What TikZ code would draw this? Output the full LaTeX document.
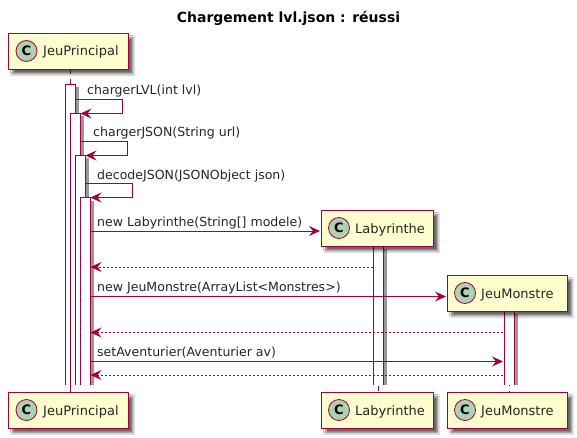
\documentclass[tikz,border=0pt]{standalone}
\usepackage{fontspec}
\setmainfont{DejaVu Sans}
\usetikzlibrary{arrows.meta,shadows.blur}
\definecolor{umlline}{HTML}{A80036}
\definecolor{umlfill}{HTML}{FEFECE}
\definecolor{umlcirc}{HTML}{ADD1B2}
\tikzset{
  x=1pt,y=-1pt,
  partbox/.style={draw=umlline,fill=umlfill,line width=1.4pt,minimum height=36pt,inner sep=0pt,anchor=north west,
    blur shadow={shadow xshift=4pt,shadow yshift=-4pt,shadow blur radius=2pt,shadow blur steps=10,shadow opacity=60}},
  classmark/.style={circle,draw=umlline,fill=umlcirc,line width=0.8pt,minimum size=21pt,inner sep=0pt,font=\fontsize{13}{13}\selectfont\bfseries},
  parttext/.style={font=\fontsize{13}{13}\selectfont,anchor=base west,inner sep=0pt,text=black!85},
  msg/.style={font=\fontsize{12.55}{13}\selectfont,anchor=base west,inner sep=0pt,text=black!85},
  call/.style={draw=umlline,line width=1pt,-{Stealth[length=11pt,width=10pt,inset=4pt]}},
  reply/.style={draw=umlline,line width=0.9pt,dash pattern=on 2pt off 2pt,-{Stealth[length=11pt,width=10pt,inset=4pt]}},
  life/.style={draw=umlline,line width=1pt,dash pattern=on 5pt off 5pt},
  actline/.style={draw=umlline,line width=1pt},
}
\newcommand{\actbar}[5]{% name, left, right, top, bottom
  \fill[black!40] (#3+1,#4+3) rectangle (#3+4,#5);
  \fill[white] (#2,#4) rectangle (#3,#5);
  \coordinate (#1tl) at (#2,#4);
  \coordinate (#1tr) at (#3,#4);
  \coordinate (#1bl) at (#2,#5);
  \coordinate (#1br) at (#3,#5);
  \draw[actline] (#1bl) -- (#1tl) -- (#1tr) -- (#1br);
}
\begin{document}
\begin{tikzpicture}
\useasboundingbox (0,0) rectangle (577,438);
\fill[white] (0,0) rectangle (577,438);
\node[font=\fontsize{14}{14}\selectfont\bfseries,inner sep=0pt] (title) at (288.5,18) {Chargement lvl.json : réussi};

% lifelines
\coordinate (lifeAtop) at (70,69);
\coordinate (lifeAbot) at (70,392);
\coordinate (lifeBtop) at (378,246);
\coordinate (lifeBbot) at (378,392);
\coordinate (lifeCtop) at (509,311);
\coordinate (lifeCbot) at (509,392);
\draw[life] (lifeAtop) -- (lifeAbot);
\draw[life] (lifeBtop) -- (lifeBbot);
\draw[life] (lifeCtop) -- (lifeCbot);

% activations
\actbar{aa}{65}{75}{84.5}{384.5}
\actbar{ab}{70}{80}{113.5}{384.5}
\actbar{ac}{75}{85}{155.5}{384.5}
\actbar{ad}{80}{90}{197.5}{384.5}
\actbar{ba}{373}{383}{246}{384.5}
\actbar{ca}{504}{514}{311}{384.5}
\coordinate (tailA) at (70,389);
\draw[actline] (abbl) -- (tailA);

% participants
\node[partbox,minimum width=120pt] (p1) at (8,33) {};
\node[classmark] (c1) at (26.5,51) {C};
\node[parttext] (t1) at (43,56) {JeuPrincipal};
\node[partbox,minimum width=112pt] (p2) at (321,210) {};
\node[classmark] (c2) at (339,228) {C};
\node[parttext] (t2) at (355,233) {Labyrinthe};
\node[partbox,minimum width=120pt] (p3) at (447,275) {};
\node[classmark] (c3) at (465,293) {C};
\node[parttext] (t3) at (481,298) {JeuMonstre};
\node[partbox,minimum width=120pt] (q1) at (8,392) {};
\node[classmark] (d1) at (26.5,410) {C};
\node[parttext] (u1) at (43,415) {JeuPrincipal};
\node[partbox,minimum width=112pt] (q2) at (321,392) {};
\node[classmark] (d2) at (339,410) {C};
\node[parttext] (u2) at (355,415) {Labyrinthe};
\node[partbox,minimum width=120pt] (q3) at (447,392) {};
\node[classmark] (d3) at (465,410) {C};
\node[parttext] (u3) at (481,415) {JeuMonstre};

% self messages
\coordinate (s1a) at (75,100);  \coordinate (s1b) at (122,100);  \coordinate (s1c) at (122,113.5); \coordinate (s1d) at (80.5,113.5);
\coordinate (s2a) at (80,142);  \coordinate (s2b) at (127.5,142);\coordinate (s2c) at (127.5,155.5);\coordinate (s2d) at (85.5,155.5);
\coordinate (s3a) at (85,184);  \coordinate (s3b) at (132.5,184);\coordinate (s3c) at (132.5,197.5);\coordinate (s3d) at (90.5,197.5);
\draw[call] (s1a) -- (s1b) -- (s1c) -- (s1d);
\draw[call] (s2a) -- (s2b) -- (s2c) -- (s2d);
\draw[call] (s3a) -- (s3b) -- (s3c) -- (s3d);
\node[msg] (l1) at (87,95) {chargerLVL(int lvl)};
\node[msg] (l2) at (93,137) {chargerJSON(String url)};
\node[msg] (l3) at (97,179) {decodeJSON(JSONObject json)};

% other messages
\coordinate (m1a) at (90,231);   \coordinate (m1b) at (320,231);
\coordinate (m2a) at (373,267);  \coordinate (m2b) at (90.5,267);
\coordinate (m3a) at (90,296.5); \coordinate (m3b) at (446,296.5);
\coordinate (m4a) at (503,332.5);\coordinate (m4b) at (90.5,332.5);
\coordinate (m5a) at (90,361.5); \coordinate (m5b) at (503,361.5);
\coordinate (m6a) at (503,375);  \coordinate (m6b) at (90.5,375);
\draw[call] (m1a) -- (m1b);
\draw[reply] (m2a) -- (m2b);
\draw[call] (m3a) -- (m3b);
\draw[reply] (m4a) -- (m4b);
\draw[call] (m5a) -- (m5b);
\draw[reply] (m6a) -- (m6b);
\node[msg] (l4) at (97,226) {new Labyrinthe(String[] modele)};
\node[msg] (l5) at (97,291.5) {new JeuMonstre(ArrayList<Monstres>)};
\node[msg] (l6) at (97,356.5) {setAventurier(Aventurier av)};
\end{tikzpicture}
\end{document}
